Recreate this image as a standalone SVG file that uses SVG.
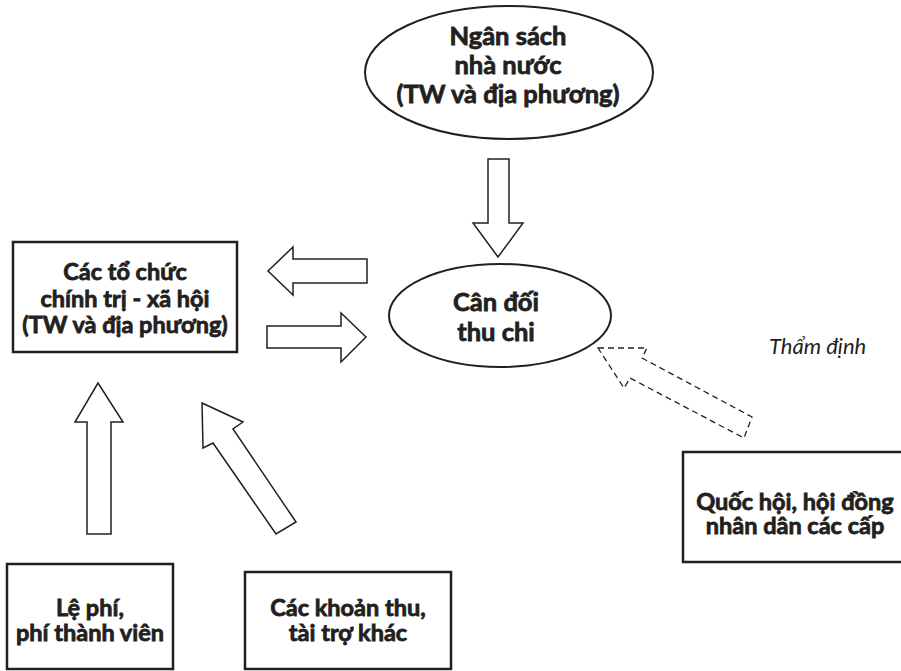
<svg xmlns="http://www.w3.org/2000/svg" width="901" height="671" viewBox="0 0 901 671">
<style>
.bg{fill:#fff}
.box{fill:#fff;stroke:#231f20;stroke-width:2.5}
.ell{fill:#fff;stroke:#231f20;stroke-width:2}
.arr{fill:#fff;stroke:#231f20;stroke-width:1.5;stroke-linejoin:miter}
.dash{fill:#fff;stroke:#231f20;stroke-width:1.3;stroke-dasharray:6 4}
text{font-family:Lato,"Open Sans",sans-serif;fill:#231f20;text-anchor:middle}
.b{font-weight:bold;font-size:23.5px;stroke:#231f20;stroke-width:0.8}
.e{font-weight:bold;font-size:25.5px;stroke:#231f20;stroke-width:0.8}
.i{font-style:italic;font-size:22px;text-anchor:start}
</style>
<rect class="bg" x="0" y="0" width="901" height="671"/>
<g id="connectors">
<polygon class="arr" points="488,159 509,159 509,223 523,223 498,257 473,223 488,223"/>
<polygon class="arr" points="367,259 293,259 293,247 268,271 293,295 293,283 367,283"/>
<polygon class="arr" points="267,326 341,326 341,313 366,337 341,362 341,348 267,348"/>
<polygon class="arr" points="87,534 87,422 75,422 98,383 123,422 111,422 111,534"/>
<polygon class="arr" points="296,522 233,429 243,422 202,403 203,448 213,443 276,534"/>
<polygon class="dash" points="598,348 647,348 642,358 752,417 744,438 630,378 624,388"/>
<text class="i" x="769" y="354">Thẩm định</text>
</g>
<g id="ngan-sach">
<ellipse class="ell" cx="509" cy="72.5" rx="144" ry="66.5"/>
<text class="e" x="508" y="45">Ngân sách</text>
<text class="e" x="508" y="74">nhà nước</text>
<text class="e" x="508" y="103">(TW và địa phương)</text>
</g>
<g id="can-doi">
<ellipse class="ell" cx="500" cy="315.5" rx="111" ry="51.5"/>
<text class="e" x="496" y="311">Cân đối</text>
<text class="e" x="496" y="341">thu chi</text>
</g>
<g id="to-chuc">
<rect class="box" x="13" y="242" width="224" height="110"/>
<text class="b" x="125" y="280">Các tổ chức</text>
<text class="b" x="125" y="307">chính trị - xã hội</text>
<text class="b" x="125" y="333">(TW và địa phương)</text>
</g>
<g id="le-phi">
<rect class="box" x="7" y="564" width="166" height="105"/>
<text class="b" x="90" y="616">Lệ phí,</text>
<text class="b" x="90" y="641">phí thành viên</text>
</g>
<g id="khoan-thu">
<rect class="box" x="245" y="572" width="206" height="97"/>
<text class="b" x="348" y="616">Các khoản thu,</text>
<text class="b" x="348" y="641">tài trợ khác</text>
</g>
<g id="quoc-hoi">
<rect class="box" x="683" y="452" width="220" height="110"/>
<text class="b" x="795" y="510">Quốc hội, hội đồng</text>
<text class="b" x="795" y="534">nhân dân các cấp</text>
</g>
</svg>
